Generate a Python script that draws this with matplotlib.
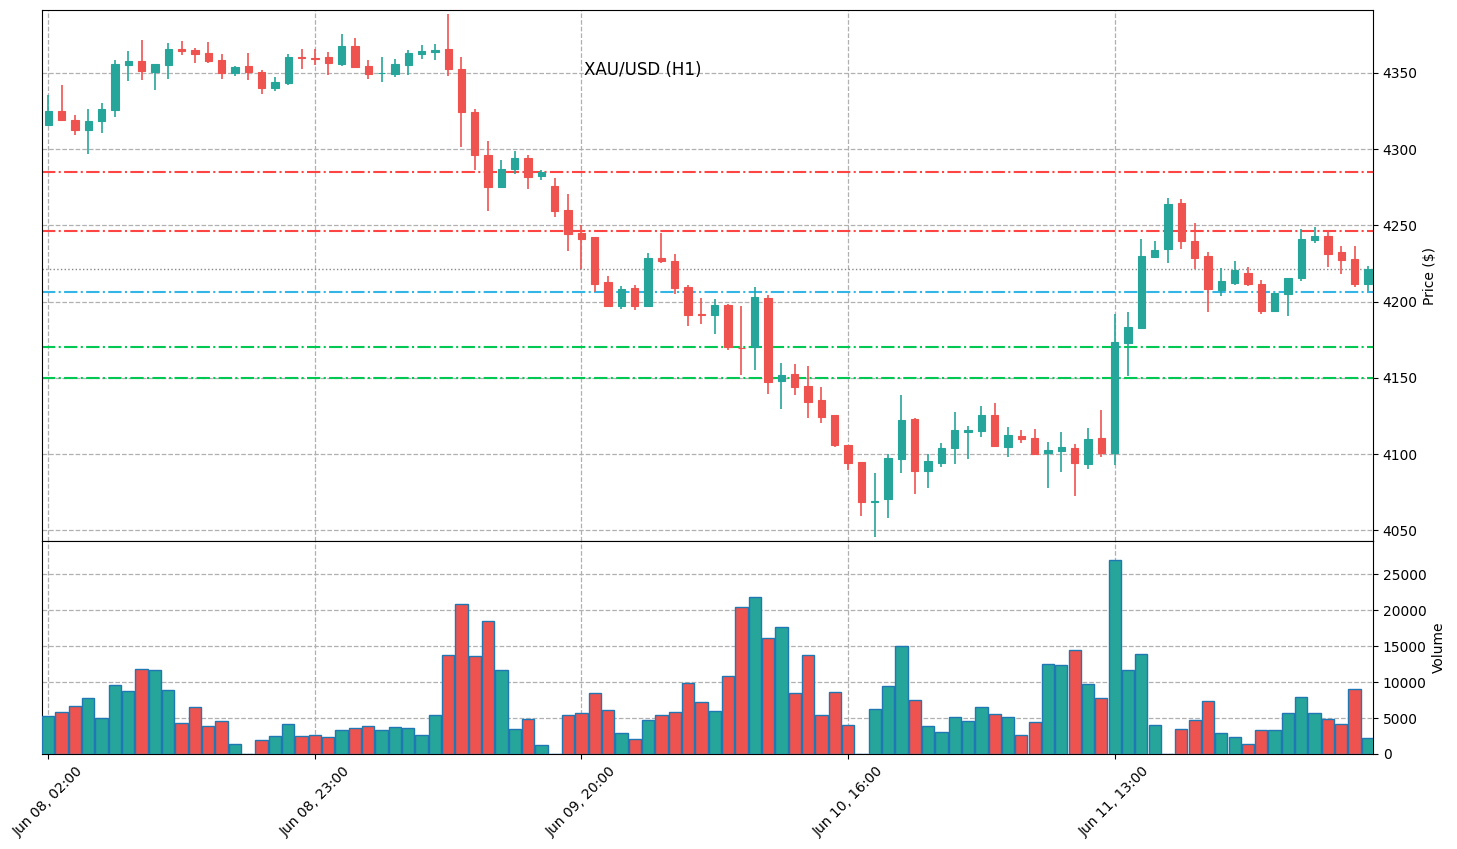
import numpy as np
import matplotlib
matplotlib.use("Agg")
import matplotlib.pyplot as plt

# ---- data ----
opens = [4316.0, 4325.0, 4319.1, 4312.7, 4318.6, 4325.8, 4355.4, 4357.8, 4350.8, 4355.4,
         4365.6, 4364.8, 4363.0, 4358.4, 4350.1, 4354.5, 4350.5, 4340.3, 4343.5, 4360.2,
         4359.6, 4360.2, 4356.0, 4367.6, 4354.5, 4349.6, 4349.4, 4355.4, 4362.6, 4363.7,
         4365.6, 4352.5, 4324.3, 4296.1, 4275.3, 4287.1, 4294.1, 4282.6, 4275.8, 4259.8,
         4244.8, 4242.1, 4212.6, 4197.3, 4208.7, 4197.3, 4228.4, 4226.4, 4209.6, 4191.6,
         4191.4, 4197.5, 4169.6, 4170.0, 4202.3, 4147.7, 4152.3, 4144.6, 4135.5, 4125.6,
         4106.0, 4094.6, 4068.9, 4070.8, 4097.0, 4123.0, 4089.1, 4094.4, 4104.2, 4114.7,
         4115.4, 4125.4, 4104.9, 4111.9, 4110.3, 4100.9, 4102.2, 4103.8, 4093.7, 4110.5,
         4100.9, 4173.1, 4182.9, 4229.5, 4234.7, 4264.6, 4239.7, 4229.9, 4207.8, 4212.4,
         4218.7, 4211.5, 4194.0, 4205.2, 4215.7, 4240.6, 4243.0, 4232.5, 4227.9, 4211.7]
highs = [4335.5, 4341.8, 4322.1, 4326.1, 4330.0, 4358.4, 4364.1, 4371.3, 4355.8, 4369.3,
         4370.7, 4366.1, 4370.0, 4362.1, 4354.5, 4362.8, 4351.6, 4347.0, 4362.3, 4365.4,
         4365.8, 4363.4, 4375.2, 4372.6, 4358.2, 4360.2, 4358.8, 4364.8, 4368.2, 4368.9,
         4388.4, 4360.2, 4326.1, 4305.3, 4292.6, 4298.5, 4295.9, 4286.1, 4280.8, 4270.4,
         4250.2, 4242.5, 4216.6, 4210.2, 4210.9, 4231.6, 4245.2, 4231.0, 4210.9, 4202.1,
         4201.5, 4198.4, 4196.9, 4209.3, 4204.1, 4159.7, 4158.8, 4157.5, 4143.8, 4125.8,
         4106.2, 4094.8, 4087.4, 4100.1, 4138.5, 4123.5, 4100.1, 4107.0, 4127.6, 4118.4,
         4131.5, 4133.3, 4117.5, 4115.8, 4116.4, 4107.7, 4114.3, 4106.4, 4117.1, 4128.9,
         4191.9, 4192.9, 4240.8, 4239.7, 4267.7, 4267.3, 4251.5, 4232.3, 4222.0, 4226.4,
         4222.7, 4214.2, 4205.6, 4215.7, 4247.4, 4249.1, 4246.9, 4236.2, 4236.2, 4223.3]
lows = [4315.5, 4318.4, 4309.0, 4296.5, 4310.3, 4320.8, 4344.4, 4345.1, 4338.5, 4346.2,
        4361.5, 4356.2, 4356.7, 4346.2, 4347.7, 4345.1, 4335.9, 4338.3, 4341.8, 4352.3,
        4355.4, 4348.4, 4354.3, 4353.4, 4345.7, 4343.8, 4347.5, 4348.4, 4359.3, 4358.6,
        4348.1, 4301.6, 4286.3, 4259.6, 4275.0, 4283.4, 4273.6, 4279.5, 4255.2, 4233.2,
        4221.4, 4206.5, 4196.7, 4195.4, 4194.3, 4196.2, 4225.1, 4204.8, 4183.8, 4185.1,
        4178.5, 4168.2, 4151.6, 4154.9, 4139.6, 4129.3, 4138.5, 4123.4, 4120.2, 4104.9,
        4089.6, 4059.2, 4045.8, 4057.9, 4087.4, 4073.6, 4078.0, 4091.3, 4093.7, 4097.0,
        4111.4, 4105.3, 4097.9, 4107.0, 4100.1, 4078.0, 4088.0, 4072.7, 4090.4, 4098.3,
        4092.8, 4151.4, 4182.7, 4228.8, 4225.5, 4234.3, 4221.1, 4192.9, 4203.9, 4211.1,
        4210.4, 4191.6, 4193.6, 4190.8, 4213.3, 4238.6, 4222.9, 4217.9, 4209.3, 4207.2]
closes = [4325.0, 4319.3, 4312.7, 4318.4, 4326.3, 4355.8, 4357.8, 4351.4, 4355.8, 4365.6,
          4364.5, 4362.6, 4358.0, 4349.7, 4353.6, 4350.8, 4340.3, 4344.0, 4360.2, 4359.8,
          4359.3, 4356.2, 4367.6, 4353.8, 4349.4, 4349.8, 4355.8, 4363.0, 4364.3, 4365.0,
          4352.5, 4324.5, 4296.3, 4275.3, 4286.7, 4294.1, 4281.9, 4284.7, 4259.6, 4244.6,
          4241.3, 4211.8, 4197.3, 4208.0, 4197.3, 4228.4, 4226.8, 4209.1, 4191.4, 4191.3,
          4197.5, 4170.0, 4169.3, 4203.0, 4147.0, 4151.6, 4144.2, 4134.4, 4124.5, 4106.2,
          4093.9, 4068.8, 4069.4, 4097.4, 4122.3, 4089.1, 4095.5, 4104.0, 4115.8, 4115.8,
          4125.4, 4105.5, 4112.3, 4110.1, 4100.3, 4102.7, 4104.4, 4094.4, 4109.7, 4100.9,
          4173.3, 4183.1, 4229.9, 4233.8, 4264.0, 4239.9, 4228.8, 4208.0, 4213.5, 4220.7,
          4211.7, 4194.0, 4205.4, 4215.5, 4240.8, 4242.8, 4231.4, 4227.5, 4211.7, 4221.1]
volumes = [5278, 5787, 6667, 7731, 4954, 9537, 8704, 11759, 11620, 8843,
           4306, 6482, 3889, 4537, 1389, 0, 1944, 2454, 4167, 2454,
           2593, 2361, 3333, 3565, 3843, 3333, 3704, 3565, 2593, 5370,
           13704, 20787, 13565, 18426, 11620, 3426, 4815, 1204, 0, 5370,
           5648, 8426, 6065, 2870, 2037, 4722, 5370, 5787, 9815, 7176,
           5926, 10787, 20370, 21759, 16065, 17593, 8426, 13704, 5370, 8565,
           3981, 0, 6204, 9398, 14954, 7454, 3843, 3009, 5093, 4537,
           6482, 5509, 5093, 2593, 4398, 12454, 12315, 14398, 9722, 7731,
           26898, 11620, 13843, 3981, 0, 3426, 4676, 7315, 2870, 2315,
           1343, 3287, 3287, 5648, 7870, 5648, 4815, 4120, 8981, 2176]
tick_labels = ["Jun 08, 02:00", "Jun 08, 23:00", "Jun 09, 20:00", "Jun 10, 16:00", "Jun 11, 13:00"]
resistance = [4285.0, 4246.3]
pivot = [4206.3]
support = [4170.4, 4150.0]
title = "XAU/USD (H1)"

UP = "#26a69a"
DOWN = "#ef5350"

o = np.array(opens)
h = np.array(highs)
l = np.array(lows)
c = np.array(closes)
v = np.array(volumes)
x = np.arange(len(o))
cols = np.where(c >= o, UP, DOWN)

fig = plt.figure(figsize=(14.57, 8.49), dpi=100)
ax = fig.add_axes([0.02883, 0.36278, 0.91352, 0.62544])
axv = fig.add_axes([0.02883, 0.11190, 0.91352, 0.25088], sharex=ax)

# candles
ax.vlines(x, l, h, colors=cols, linewidth=1.2, zorder=3)
body = np.maximum(np.abs(c - o), 0.5)
ax.bar(x, body, bottom=np.minimum(o, c), width=0.55, color=cols,
       edgecolor=cols, linewidth=0.8, zorder=4)

# levels
for lv in resistance:
    ax.axhline(lv, color="#ff4444", linestyle="-.", linewidth=1.5, zorder=2)
for lv in pivot:
    ax.axhline(lv, color="#33b5e5", linestyle="-.", linewidth=1.5, zorder=2)
for lv in support:
    ax.axhline(lv, color="#00c853", linestyle="-.", linewidth=1.5, zorder=2)
ax.axhline(c[-1], color="#888888", linestyle=":", linewidth=1.0, zorder=2)

ax.set_xlim(-0.47, len(o) - 0.62)
ax.set_ylim(4043.0, 4391.2)
ax.set_yticks(np.arange(4050, 4351, 50))
ax.yaxis.tick_right()
ax.yaxis.set_label_position("right")
ax.set_ylabel("Price ($)", fontsize=10)
ax.tick_params(axis="x", which="both", bottom=False, labelbottom=False)
ax.tick_params(axis="y", labelsize=10)
ax.grid(True, linestyle="--", color="#b0b0b0", linewidth=0.9)
ax.set_axisbelow(True)

fig.text(0.441, 0.917, title, ha="center", va="center", fontsize=12)

# volume
axv.bar(x, v, width=0.92, color=cols, edgecolor="#1f77b4", linewidth=1.0, zorder=3)
axv.set_ylim(0, v.max() * 1.1)
axv.set_yticks(np.arange(0, 25001, 5000))
axv.yaxis.tick_right()
axv.yaxis.set_label_position("right")
axv.set_ylabel("Volume", fontsize=10)
axv.tick_params(axis="y", labelsize=10)
axv.set_xticks(np.arange(0, len(o), 20))
axv.set_xticklabels(tick_labels, rotation=45, fontsize=10)
axv.grid(True, linestyle="--", color="#b0b0b0", linewidth=0.9)
axv.set_axisbelow(True)

fig.savefig("out.png", dpi=100)
